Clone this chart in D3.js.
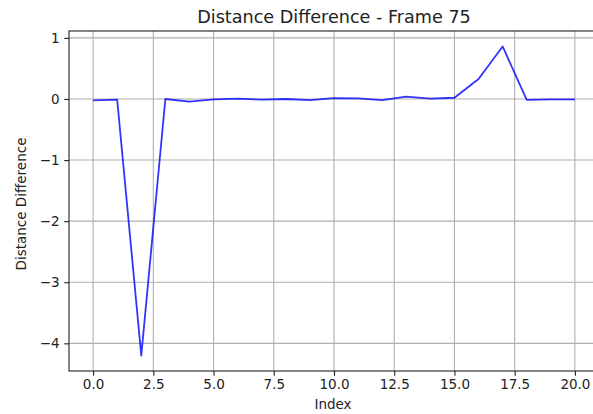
<!DOCTYPE html>
<html><head><meta charset="utf-8">
<script src="https://cdn.jsdelivr.net/npm/d3@7"></script>
<style>body{margin:0;background:#fff}svg{display:block}text{font-family:"DejaVu Sans",sans-serif;fill:#222}</style>
</head><body>
<script>
const indices = [0,1,2,3,4,5,6,7,8,9,10,11,12,13,14,15,16,17,18,19,20];
const distDiff = [-0.022,-0.01,-4.2,0.0,-0.044,-0.005,0.005,-0.01,0.0,-0.02,0.015,0.01,-0.02,0.04,0.005,0.02,0.326,0.86,-0.015,-0.005,-0.005];
const xTicks = [0,2.5,5,7.5,10,12.5,15,17.5,20];
const yTicks = [1,0,-1,-2,-3,-4];
const title = "Distance Difference - Frame 75";
const xLabel = "Index";
const yLabel = "Distance Difference";

const W=593,H=414;
const L=69,T=31,R=599,B=371;
const svg=d3.select("body").append("svg").attr("width",W).attr("height",H);
const x=d3.scaleLinear().domain([-1,21]).range([L,R]);
const yMin=d3.min(distDiff),yMax=d3.max(distDiff),pad=(yMax-yMin)*0.05;
const y=d3.scaleLinear().domain([yMin-pad,yMax+pad]).range([B,T]);

const g=svg.append("g");
g.selectAll(".gx").data(xTicks).join("line").attr("x1",d=>x(d)).attr("x2",d=>x(d)).attr("y1",T).attr("y2",B).attr("stroke","#b0b0b0").attr("stroke-width",1.1);
g.selectAll(".gy").data(yTicks).join("line").attr("x1",L).attr("x2",R).attr("y1",d=>y(d)).attr("y2",d=>y(d)).attr("stroke","#b0b0b0").attr("stroke-width",1.1);

const line=d3.line().x((d,i)=>x(indices[i])).y(d=>y(d));
svg.append("path").datum(distDiff).attr("d",line).attr("fill","none").attr("stroke","blue").attr("stroke-opacity",0.8).attr("stroke-width",1.8).attr("stroke-linejoin","round");

const fmtY=d=>d<0?"\u2212"+Math.abs(d):String(d);
const xa=svg.append("g").attr("transform",`translate(0,${B})`).call(d3.axisBottom(x).tickValues(xTicks).tickFormat(d3.format(".1f")).tickSizeOuter(0).tickSize(4.8).tickPadding(3.5));
const ya=svg.append("g").attr("transform",`translate(${L},0)`).call(d3.axisLeft(y).tickValues(yTicks).tickFormat(fmtY).tickSizeOuter(0).tickSize(4.8).tickPadding(4.5));
[xa,ya].forEach(a=>{a.select(".domain").remove();a.selectAll("line").attr("stroke","#222").attr("stroke-width",1.1);a.selectAll("text").style("font-size","13.5px").attr("fill","#222");});
svg.append("rect").attr("x",L).attr("y",T).attr("width",R-L).attr("height",B-T).attr("fill","none").attr("stroke","#222").attr("stroke-width",1.1);

svg.append("text").attr("x",(L+R)/2).attr("y",23).attr("text-anchor","middle").style("font-size","17.6px").text(title);
svg.append("text").attr("x",333).attr("y",409).attr("text-anchor","middle").style("font-size","13.5px").text(xLabel);
svg.append("text").attr("transform",`translate(26,204) rotate(-90)`).attr("text-anchor","middle").style("font-size","13.5px").text(yLabel);
</script>
</body></html>
